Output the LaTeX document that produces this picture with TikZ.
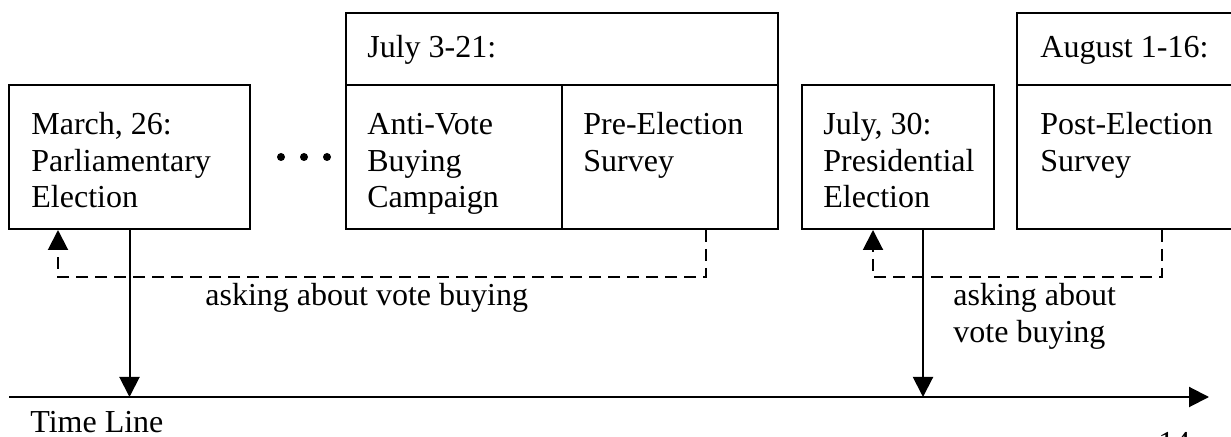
\documentclass[tikz,border=0pt]{standalone}
\usepackage{fontspec}
\setmainfont{Liberation Serif}
\usetikzlibrary{arrows.meta}
\tikzset{
  box/.style={draw, line width=1pt, inner sep=0pt, minimum height=72pt},
  hdr/.style={draw, line width=1pt, inner sep=0pt, minimum height=36pt},
  txt/.style={anchor=base west, inner sep=0pt, font=\fontsize{16}{18.2}\selectfont},
  link/.style={line width=1pt, -{Triangle[length=10pt,width=10pt]}},
  asklink/.style={link, dash pattern=on 6pt off 3.5pt},
}
\begin{document}
\begin{tikzpicture}[x=0.5pt, y=-0.5pt]
\useasboundingbox (0,0) rectangle (1231,437);
\clip (0,0) rectangle (1231,437);
% boxes
\node[box, minimum width=120.5pt] (b1) at (129.5,157) {};
\node[hdr, minimum width=216pt] (b2h) at (562,49) {};
\node[box, minimum width=108pt] (b2l) at (454,157) {};
\node[box, minimum width=108pt] (b2r) at (670,157) {};
\node[box, minimum width=96pt] (b3) at (898,157) {};
\node[hdr, minimum width=112pt] (b4h) at (1129,49) {};
\node[box, minimum width=112pt] (b4b) at (1129,157) {};
% texts
\node[txt] (t1) at (31,135) {\begin{tabular}[t]{@{}l@{}}March, 26:\\Parliamentary\\Election\end{tabular}};
\node[txt] (t2h) at (367,58) {July 3-21:};
\node[txt] (t2l) at (367,135) {\begin{tabular}[t]{@{}l@{}}Anti-Vote\\Buying\\Campaign\end{tabular}};
\node[txt] (t2r) at (583,135) {\begin{tabular}[t]{@{}l@{}}Pre-Election\\Survey\end{tabular}};
\node[txt] (t3) at (823,135) {\begin{tabular}[t]{@{}l@{}}July, 30:\\Presidential\\Election\end{tabular}};
\node[txt] (t4h) at (1040,58) {August 1-16:};
\node[txt] (t4b) at (1040,135) {\begin{tabular}[t]{@{}l@{}}Post-Election\\Survey\end{tabular}};
% dots
\foreach \x in {281,304,327} \fill (\x,157) circle (2pt);
% timeline
\coordinate (tls) at (9,397);
\coordinate (tle) at (1209,397);
\draw[link] (tls) -- (tle);
\coordinate (p3) at (923,397);
\draw[link] (b1.south) -- (b1.south |- tls);
\draw[link] (b3.south -| p3) -- (p3);
% dashed feedback connectors
\coordinate (q1) at (706,277);
\coordinate (q2) at (58,277);
\draw[asklink] (b2r.south -| q1) -- (q1) -- (q2) -- (b1.south -| q2);
\coordinate (q3) at (1162,277);
\coordinate (q4) at (873,277);
\draw[asklink] (b4b.south -| q3) -- (q3) -- (q4) -- (b3.south -| q4);
% labels
\node[txt] (a1) at (205,306) {asking about vote buying};
\node[txt] (a2) at (953,306) {\begin{tabular}[t]{@{}l@{}}asking about\\vote buying\end{tabular}};
\node[txt] (tl) at (30,433) {Time Line};
\node[txt] (pg) at (1158,454) {14};
\end{tikzpicture}
\end{document}
